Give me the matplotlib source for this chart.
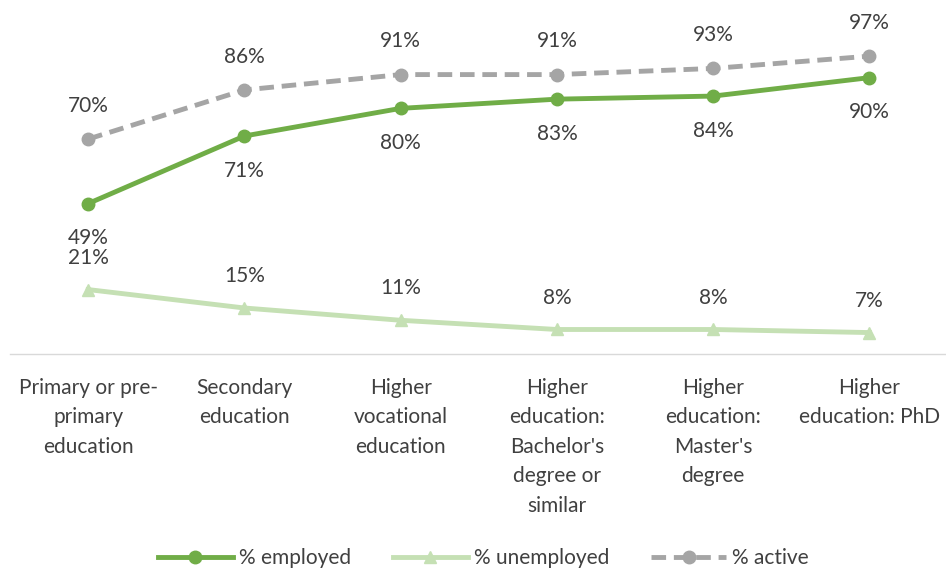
import matplotlib.pyplot as plt
import numpy as np

categories = [
    "Primary or pre-\nprimary\neducation",
    "Secondary\neducation",
    "Higher\nvocational\neducation",
    "Higher\neducation:\nBachelor's\ndegree or\nsimilar",
    "Higher\neducation:\nMaster's\ndegree",
    "Higher\neducation: PhD",
]
employed = [49, 71, 80, 83, 84, 90]
unemployed = [21, 15, 11, 8, 8, 7]
active = [70, 86, 91, 91, 93, 97]

plt.rcParams['font.family'] = ['Lato', 'DejaVu Sans']
txt = '#404040'
fs = 15

fig = plt.figure(figsize=(9.46, 5.72), dpi=100)
ax = fig.add_axes([0.0106, 0.381, 0.991, 0.596])
x = np.arange(len(categories))

ax.plot(x, active, color='#A5A5A5', lw=3.5, ls=(0, (3, 1.6)), marker='o', ms=9,
        label='% active', zorder=3)
ax.plot(x, employed, color='#70AD47', lw=3.5, marker='o', ms=9,
        label='% employed', zorder=4)
ax.plot(x, unemployed, color='#C5E0B4', lw=3.5, marker='^', ms=9,
        label='% unemployed', zorder=2)

for i in x:
    ax.annotate(f"{active[i]}%", (i, active[i]), xytext=(0, 24), textcoords='offset points',
                ha='center', va='center', fontsize=fs, color=txt)
    ax.annotate(f"{employed[i]}%", (i, employed[i]), xytext=(0, -25), textcoords='offset points',
                ha='center', va='center', fontsize=fs, color=txt)
    ax.annotate(f"{unemployed[i]}%", (i, unemployed[i]), xytext=(0, 23), textcoords='offset points',
                ha='center', va='center', fontsize=fs, color=txt)

ax.set_xlim(-0.5, len(categories) - 0.5)
ax.set_ylim(0, 111)
ax.set_yticks([])
ax.set_xticks(x)
ax.set_xticklabels(categories, fontsize=fs, color=txt, linespacing=1.6, va='top')
ax.tick_params(axis='x', length=0, pad=17)
for s in ['top', 'right', 'left']:
    ax.spines[s].set_visible(False)
ax.spines['bottom'].set_color('#D9D9D9')
ax.spines['bottom'].set_linewidth(1)

h, l = ax.get_legend_handles_labels()
order = [1, 2, 0]
fig.legend([h[k] for k in order], [l[k] for k in order], loc='center', bbox_to_anchor=(0.511, 0.024),
           ncol=3, frameon=False, fontsize=fs, labelcolor=txt, handlelength=3.6, columnspacing=2.0,
           handletextpad=0.3)

fig.savefig('out.png', dpi=100)
